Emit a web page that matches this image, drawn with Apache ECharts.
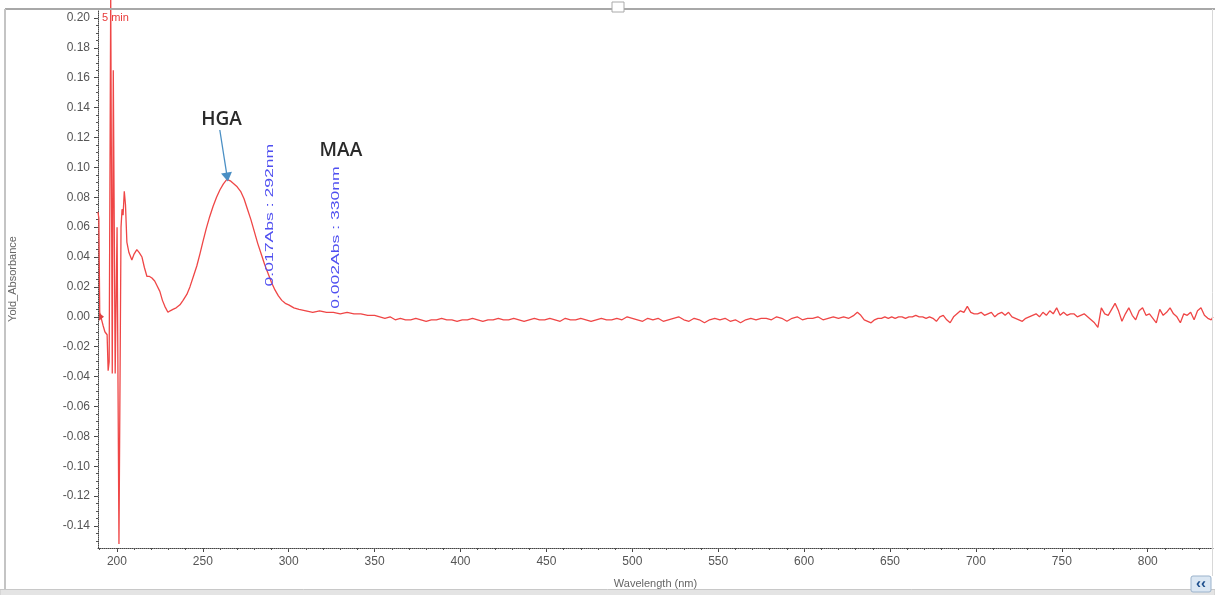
<!DOCTYPE html>
<html><head><meta charset="utf-8">
<script src="https://cdn.jsdelivr.net/npm/echarts@6/dist/echarts.min.js"></script>
<style>html,body{margin:0;padding:0;background:#fff}#c{width:1215px;height:595px}</style>
</head><body><div id="c"></div>
<script>
// ---- data (wavelength in nm, absorbance in Abs) ----
const wavelengthNm = [
  189.0,189.5,190.0,191.0,192.0,193.0,194.3,194.9,195.5,196.4,197.3,197.9,199.0,200.1,201.2,202.4,203.0,203.6,204.3,205.0,
  205.8,207.0,208.7,210.0,211.6,213.0,214.6,216.0,217.5,219.0,220.4,222.0,223.3,225.0,226.5,227.9,229.7,231.0,232.6,234.5,
  236.7,238.5,240.7,242.5,244.5,246.5,248.3,250,252,254,256,258,260,262,264,266,268,270,272,274,
  276,278,280,282,284,286,288,290,292,294,296,298,300,303,306,310,314,318,322,326,
  330,334,338,342,346,
  350,353,356,359,362,365,368,371,374,377,380,383,386,389,392,395,398,401,404,407,
  410,413,416,419,422,425,428,431,434,437,440,443,446,449,452,455,458,461,464,467,
  470,473,476,479,482,485,488,491,494,497,500,503,506,509,512,515,518,521,524,527,
  530,533,536,539,542,545,548,551,554,557,560,563,566,569,572,575,578,581,584,587,
  590,593,596,599,602,605,608,611,614,617,620,623,626,629,
  631,633,635,637,639,641,643,645,647,649,651,653,655,657,659,661,663,665,667,669,
  671,673,675,677,679,681,683,685,687,689,691,693,695,697,699,701,703,705,707,709,
  711,713,715,717,719,721,723,725,727,729,731,733,735,737,739,741,743,745,747,749,
  751,753,755,757,759,761,763,765,767,769,771,773,775,777,779,781,783,785,787,789,
  791,793,795,797,799,801,803,805,807,809,811,813,815,817,819,821,823,825,827,829,
  831,833,835,837,838
];
const absorbance = [
  0.070,0.066,0.003,0.004,-0.006,-0.010,-0.012,-0.036,-0.030,0.215,-0.038,0.165,-0.038,0.060,-0.152,0.060,0.072,0.068,0.084,0.075,
  0.050,0.043,0.038,0.042,0.045,0.043,0.040,0.033,0.027,0.027,0.026,0.024,0.021,0.017,0.011,0.007,0.003,0.004,0.005,0.006,
  0.008,0.011,0.015,0.020,0.027,0.034,0.042,0.050,0.059,0.067,0.074,0.080,0.085,0.089,0.092,0.091,0.089,0.087,0.084,0.079,
  0.072,0.065,0.057,0.049,0.042,0.035,0.029,0.023,0.018,0.014,0.011,0.009,0.008,0.006,0.005,0.004,0.003,0.004,0.003,0.003,
  0.002,0.003,0.002,0.002,0.001,
  0.001,0.000,-0.001,0.000,-0.002,-0.001,-0.002,-0.002,-0.001,-0.002,-0.003,-0.002,-0.002,-0.001,-0.002,-0.002,-0.003,-0.002,-0.002,-0.001,
  -0.002,-0.003,-0.002,-0.002,-0.001,-0.002,-0.002,-0.001,-0.002,-0.003,-0.002,-0.001,-0.002,-0.002,-0.001,-0.002,-0.003,-0.001,-0.002,-0.002,
  -0.001,-0.002,-0.003,-0.002,-0.001,-0.002,-0.002,-0.001,-0.002,0.000,-0.001,-0.002,-0.003,-0.001,-0.002,-0.001,-0.003,-0.002,-0.001,0.000,
  -0.002,-0.003,-0.001,-0.002,-0.004,-0.002,-0.001,-0.002,-0.001,-0.003,-0.002,-0.004,-0.002,-0.001,-0.002,-0.001,-0.001,-0.002,0.000,-0.001,
  -0.003,-0.001,0.000,-0.002,-0.001,-0.001,0.000,-0.002,-0.001,0.000,-0.001,0.000,-0.001,0.001,
  0.003,0.001,-0.002,-0.003,-0.004,-0.002,-0.001,-0.001,0.000,-0.001,0.000,-0.001,0.000,0.000,-0.001,0.000,0.000,0.001,0.000,0.000,
  -0.001,0.000,-0.001,-0.003,0.000,0.001,-0.002,-0.004,0.000,0.002,0.004,0.003,0.007,0.003,0.002,0.002,0.003,0.001,0.002,0.003,
  0.000,0.002,0.003,0.001,0.003,0.000,-0.001,-0.002,-0.003,-0.001,0.000,0.001,0.002,0.000,0.003,0.001,0.004,0.002,0.006,0.001,
  0.003,0.001,0.002,0.002,0.000,0.001,0.002,0.000,-0.002,-0.004,-0.007,0.006,0.002,0.001,0.005,0.009,0.004,-0.003,0.002,0.006,
  0.001,-0.002,0.004,0.006,0.001,0.002,-0.001,-0.004,0.005,0.001,0.003,0.006,0.002,0.000,-0.004,0.002,0.001,0.003,-0.002,0.004,
  0.006,0.001,-0.001,-0.002,0.000
];
const xTickLabels = [200,250,300,350,400,450,500,550,600,650,700,750,800];
const yTickLabels = [-0.14,-0.12,-0.10,-0.08,-0.06,-0.04,-0.02,0.00,0.02,0.04,0.06,0.08,0.10,0.12,0.14,0.16,0.18,0.20];
const xMinorTicks = [190,200,210,220,230,240,250,260,270,280,290,300,310,320,330,340,350,360,370,380,390,400,410,420,430,440,450,460,470,480,490,500,510,520,530,540,550,560,570,580,590,600,610,620,630,640,650,660,670,680,690,700,710,720,730,740,750,760,770,780,790,800,810,820,830];
const yMinorTicks = [-0.15,-0.145,-0.14,-0.135,-0.13,-0.125,-0.12,-0.115,-0.11,-0.105,-0.10,-0.095,-0.09,-0.085,-0.08,-0.075,-0.07,-0.065,-0.06,-0.055,-0.05,-0.045,-0.04,-0.035,-0.03,-0.025,-0.02,-0.015,-0.01,-0.005,0,0.005,0.01,0.015,0.02,0.025,0.03,0.035,0.04,0.045,0.05,0.055,0.06,0.065,0.07,0.075,0.08,0.085,0.09,0.095,0.10,0.105,0.11,0.115,0.12,0.125,0.13,0.135,0.14,0.145,0.15,0.155,0.16,0.165,0.17,0.175,0.18,0.185,0.19,0.195,0.20];
const traceName = '5 min';
const peakLabels = [{text:'HGA', at:[260.9,0.132]}, {text:'MAA', at:[330.4,0.111]}];
const cursorLabels = [{text:'0.017Abs : 292nm', at:[292,0.017]}, {text:'0.002Abs : 330nm', at:[330,0.002]}];
const arrowFrom = [259.9,0.125], arrowTo = [264.2,0.0935];

const X_MIN = 189, X_MAX = 838, Y_MIN = -0.1547, Y_MAX = 0.2053;
const seriesData = wavelengthNm.map((w,i)=>[w, absorbance[i]]);
const axisFont = 'Liberation Sans, Arial, sans-serif';

const chart = echarts.init(document.getElementById('c'), null, {renderer:'canvas'});
const option = {
  animation:false,
  backgroundColor:'#fff',
  grid:{left:98, right:2, top:10, bottom:47, containLabel:false, outerBoundsMode:'none'},
  xAxis:[{
    type:'value', min:X_MIN, max:X_MAX, position:'bottom',
    name:'Wavelength (nm)', nameLocation:'middle', nameGap:30,
    nameTextStyle:{color:'#666', fontSize:11, fontFamily:axisFont},
    axisLine:{show:true, onZero:false, lineStyle:{color:'#444', width:1, type:'dotted'}},
    axisTick:{show:true, length:4, customValues:xTickLabels, lineStyle:{color:'#444'}},
    axisLabel:{show:true, customValues:xTickLabels, margin:8, color:'#555', fontSize:12, fontFamily:axisFont},
    splitLine:{show:false}
  },{
    type:'value', min:X_MIN, max:X_MAX, position:'bottom',
    axisLine:{show:false, onZero:false},
    axisTick:{show:true, length:2, customValues:xMinorTicks, lineStyle:{color:'#555'}},
    axisLabel:{show:false}, splitLine:{show:false}
  }],
  yAxis:[{
    type:'value', min:Y_MIN, max:Y_MAX, position:'left',
    name:'Yold_Absorbance', nameLocation:'middle', nameGap:80,
    nameTextStyle:{color:'#666', fontSize:11, fontFamily:axisFont},
    axisLine:{show:true, onZero:false, lineStyle:{color:'#444', width:1, type:'dotted'}},
    axisTick:{show:true, length:4, customValues:yTickLabels, lineStyle:{color:'#444'}},
    axisLabel:{show:true, customValues:yTickLabels, margin:8, color:'#555', fontSize:12, fontFamily:axisFont,
      formatter:v=>v.toFixed(2)},
    splitLine:{show:false}
  },{
    type:'value', min:Y_MIN, max:Y_MAX, position:'left',
    axisLine:{show:false, onZero:false},
    axisTick:{show:true, length:2, customValues:yMinorTicks, lineStyle:{color:'#555'}},
    axisLabel:{show:false}, splitLine:{show:false}
  }],
  series:[{
    name:traceName, type:'line', xAxisIndex:0, yAxisIndex:0,
    data:seriesData, showSymbol:false, symbol:'none', clip:false,
    lineStyle:{color:'#ef4646', width:1.3},
    markLine:{
      silent:true, symbol:['none','triangle'], symbolSize:[11,9],
      label:{show:false},
      lineStyle:{color:'#4a8fc4', width:1.3, type:'solid'},
      data:[[{coord:arrowFrom},{coord:arrowTo}]]
    }
  }]
};
chart.setOption(option);

const px = p => chart.convertToPixel({xAxisIndex:0, yAxisIndex:0}, p);
const g = [];
// panel frame (UI chrome)
g.push({type:'line', shape:{x1:5, y1:9, x2:1215, y2:9}, style:{stroke:'#a8a8a8', lineWidth:2}, z:50});
g.push({type:'line', shape:{x1:5, y1:9, x2:5, y2:589}, style:{stroke:'#c4c4c4', lineWidth:2}, z:50});
g.push({type:'line', shape:{x1:1212.5, y1:9, x2:1212.5, y2:576}, style:{stroke:'#d8d8d8', lineWidth:1}, z:50});
g.push({type:'rect', shape:{x:0, y:589.5, width:1215, height:6}, style:{fill:'#e4e4e4', stroke:'#c8c8c8', lineWidth:1}, z:60});
g.push({type:'rect', shape:{x:612, y:2, width:12, height:10}, style:{fill:'#fff', stroke:'#aaa', lineWidth:1}, z:61});
g.push({type:'rect', shape:{x:1191, y:576, width:20, height:16, r:2}, style:{fill:'#dbe7f3', stroke:'#9bb3cc', lineWidth:1}, z:61});
g.push({type:'text', x:1201, y:584, style:{text:'‹‹', fill:'#1d4e8c', font:'bold 15px '+axisFont, align:'center', verticalAlign:'middle'}, z:62});
// trace name
g.push({type:'text', x:102, y:18, style:{text:traceName, fill:'#e83a3a', font:'11px '+axisFont, align:'left', verticalAlign:'middle'}, z:40});
// zero marker of the trace
const z0 = px([X_MIN, 0]);
g.push({type:'polygon', shape:{points:[[z0[0]+1, z0[1]-4],[z0[0]+6, z0[1]],[z0[0]+1, z0[1]+4]]}, style:{fill:'#e04040'}, z:40});
// peak names
peakLabels.forEach(a=>{
  const p = px(a.at);
  g.push({type:'text', x:p[0], y:p[1], style:{text:a.text, fill:'#2a2a2a', font:'600 19px "Open Sans", sans-serif', align:'center', verticalAlign:'middle'}, z:40});
});
// cursor value labels (vertical)
cursorLabels.forEach(a=>{
  const p = px(a.at);
  g.push({type:'text', x:p[0]+1, y:p[1]-5, rotation:Math.PI/2, scaleX:1.35, scaleY:0.9,
    style:{text:a.text, fill:'#4f4ff0', font:'13px '+axisFont, align:'left', verticalAlign:'bottom'}, z:40});
});
chart.setOption({graphic:g});
</script>
</body></html>
